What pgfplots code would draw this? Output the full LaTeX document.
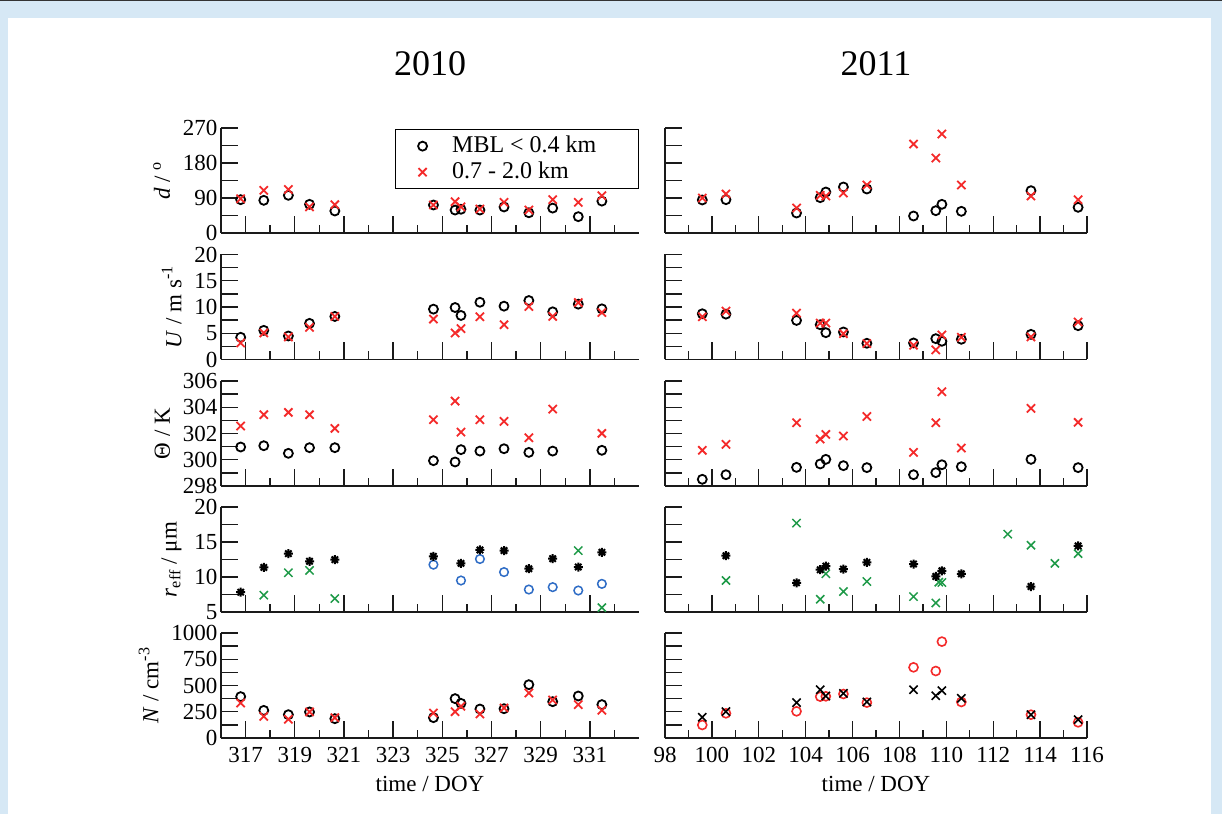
\documentclass[border=0pt]{standalone}
\usepackage{fontspec}
\setmainfont{Liberation Serif}
\usepackage{pgfplots}
\usepackage{pgfplotstable}
\pgfplotsset{compat=1.18}
\usetikzlibrary{plotmarks}

\definecolor{frameblue}{HTML}{D6E8F5}
\definecolor{xred}{HTML}{F42A2A}
\definecolor{xgreen}{HTML}{1E9A48}
\definecolor{oblue}{HTML}{2F6DC6}
\definecolor{axisgray}{HTML}{1A1A1A}

% eight-armed asterisk
\pgfdeclareplotmark{star8}{%
  \pgfpathmoveto{\pgfqpoint{0pt}{\pgfplotmarksize}}%
  \pgfpathlineto{\pgfqpoint{0pt}{-\pgfplotmarksize}}%
  \pgfpathmoveto{\pgfqpoint{\pgfplotmarksize}{0pt}}%
  \pgfpathlineto{\pgfqpoint{-\pgfplotmarksize}{0pt}}%
  \pgfpathmoveto{\pgfqpoint{.707\pgfplotmarksize}{.707\pgfplotmarksize}}%
  \pgfpathlineto{\pgfqpoint{-.707\pgfplotmarksize}{-.707\pgfplotmarksize}}%
  \pgfpathmoveto{\pgfqpoint{.707\pgfplotmarksize}{-.707\pgfplotmarksize}}%
  \pgfpathlineto{\pgfqpoint{-.707\pgfplotmarksize}{.707\pgfplotmarksize}}%
  \pgfusepathqstroke}

% ---------------- 2010 ----------------
\pgfplotstableread{
x      c      r
316.80 85.7   88
317.74 84     109.7
318.74 96.9   112
319.60 73.7   67
320.63 56.6   72.9
324.64 72     72
325.52 59     80.6
325.76 61     67
326.53 59     61.7
327.51 66.9   78.9
328.52 52     59
329.49 64     85.7
330.53 42     78.9
331.49 82     96
}\dA
\pgfplotstableread{
x      c      r
316.80 4.23   3.15
317.74 5.55   5.05
318.74 4.48   4.29
319.60 6.88   6.12
320.63 8.20   8.20
324.64 9.59   7.70
325.52 9.90   5.05
325.76 8.39   5.87
326.53 10.90  8.14
327.51 10.16  6.62
328.52 11.23  10.10
329.49 9.08   8.20
330.53 10.54  10.85
331.49 9.65   8.96
}\uA
\pgfplotstableread{
x      c       r
316.80 300.97  302.57
317.74 301.07  303.43
318.74 300.49  303.61
319.60 300.92  303.43
320.63 300.92  302.39
324.64 299.93  303.05
325.52 299.83  304.47
325.76 300.77  302.11
326.53 300.66  303.05
327.51 300.84  302.92
328.52 300.56  301.68
329.49 300.66  303.86
331.49 300.72  302.01
}\tA
\pgfplotstableread{
x      s
316.80 7.83
317.74 11.37
318.74 13.34
319.60 12.24
320.63 12.47
324.64 12.95
325.76 11.95
326.53 13.86
327.51 13.77
328.52 11.18
329.49 12.62
330.53 11.42
331.49 13.53
}\rsA
\pgfplotstableread{
x      g
317.74 7.40
318.74 10.60
319.60 10.94
320.63 6.92
330.53 13.77
331.49 5.62
}\rgA
\pgfplotstableread{
x      b
324.64 11.76
325.76 9.50
326.53 12.57
327.51 10.70
328.52 8.21
329.49 8.55
330.53 8.07
331.49 9.02
}\rbA
\pgfplotstableread{
x      c    r
316.80 394  333
317.74 263  206
318.74 222  178
319.60 248  248
320.63 184  194
324.64 194  238
325.52 375  251
325.76 330  302
326.53 276  229
327.51 279  286
328.52 508  429
329.49 346  362
330.53 400  318
331.49 318  264
}\nA

% ---------------- 2011 ----------------
\pgfplotstableread{
x      c      r
99.59  84.9   90
100.60 85.7   100.3
103.61 51.4   64.3
104.62 90.9   96.8
104.86 105.4  95.1
105.61 118.3  102.8
106.61 113.1  123.4
108.60 43.7   228.8
109.55 57.4   192.8
109.81 73.7   254.5
110.64 55.7   123.4
113.61 108.8  95.1
115.62 66.0   85.7
}\dB
\pgfplotstableread{
x      c      r
99.59  8.71   8.14
100.60 8.64   9.21
103.61 7.44   8.83
104.62 6.62   6.94
104.86 5.11   6.94
105.61 5.24   4.92
106.61 3.09   3.03
108.60 3.15   2.71
109.55 3.97   1.83
109.81 3.47   4.67
110.64 3.85   4.23
113.61 4.79   4.29
115.62 6.44   7.13
}\uB
\pgfplotstableread{
x      c       r
99.59  298.51  300.72
100.60 298.86  301.17
103.61 299.42  302.82
104.62 299.68  301.58
104.86 300.03  301.93
105.61 299.55  301.81
106.61 299.40  303.30
108.60 298.86  300.56
109.55 299.02  302.82
109.81 299.62  305.18
110.64 299.47  300.89
113.61 300.03  303.91
115.62 299.40  302.85
}\tB
\pgfplotstableread{
x      s
100.60 13.05
103.61 9.17
104.62 11.04
104.86 11.56
105.61 11.13
106.61 12.09
108.60 11.85
109.55 10.08
109.81 10.89
110.64 10.46
113.61 8.64
115.62 14.44
}\rsB
\pgfplotstableread{
x      g
100.60 9.50
103.61 17.70
104.62 6.82
104.86 10.46
105.61 7.92
106.61 9.36
108.60 7.20
109.55 6.29
109.68 9.26
109.81 9.22
112.62 16.12
113.61 14.54
114.63 11.95
115.62 13.34
}\rgB
\pgfplotstableread{
x      c    r
99.59  124  197
100.60 235  251
103.61 254  337
104.62 394  460
104.86 397  400
105.61 419  425
106.61 337  343
108.60 673  460
109.55 638  403
109.81 918  451
110.64 343  378
113.61 222  222
115.62 149  175
}\nB

\pgfplotsset{
  panel/.style={
    scale only axis, height=105pt,
    axis x line*=bottom, axis y line*=left,
    tick align=inside,
    axis line style={line width=1.8pt, color=axisgray},
    every tick/.style={line width=1.4pt, color=axisgray},
    major tick length=17pt, minor tick length=8pt,
    tick label style={font=\fontsize{23}{27}\selectfont},
    xticklabel style={yshift=-6pt},
    label style={font=\fontsize{23}{27}\selectfont},
    xlabel style={yshift=-6pt},
    ylabel style={xshift=0pt, yshift=6pt},
    /pgf/number format/assume math mode=true,
    clip=false,
  },
  col2010/.style={panel, width=418pt, xmin=316, xmax=333,
    xtick={317,319,...,331}, minor xtick={316,318,...,332}},
  col2011/.style={panel, width=422pt, xmin=98, xmax=116,
    xtick={98,100,...,116}, minor xtick={99,101,...,115}, yticklabels={}},
  noxlab/.style={xticklabels={}},
  rowd/.style={ymin=0, ymax=270, ytick={0,45,...,270}},
  rowu/.style={ymin=0, ymax=20, ytick={0,2.5,...,20}},
  rowt/.style={ymin=298, ymax=306, ytick={298,299,...,306}},
  rowr/.style={ymin=5, ymax=20, ytick={5,7.5,...,20}},
  rown/.style={ymin=0, ymax=1000, ytick={0,125,...,1000}},
  legimg/.style={legend image code/.code={%
      \path (0pt,0pt) (50pt,0pt);
      \draw[##1] plot coordinates {(23pt,0pt)};}},
  ocirc/.style={only marks, mark=o, mark size=4.5pt, color=black,
    mark options={line width=1.8pt}, legimg},
  ocircred/.style={only marks, mark=o, mark size=4.5pt, color=xred,
    mark options={line width=1.6pt}},
  ocircblue/.style={only marks, mark=o, mark size=4.3pt, color=oblue,
    mark options={line width=1.5pt}},
  xred/.style={only marks, mark=x, mark size=5.8pt, color=xred,
    mark options={line width=1.8pt}, legimg},
  xblack/.style={only marks, mark=x, mark size=5.8pt, color=black,
    mark options={line width=1.6pt}},
  xgreen/.style={only marks, mark=x, mark size=5.8pt, color=xgreen,
    mark options={line width=1.5pt}},
  astk/.style={only marks, mark=star8, mark size=4.5pt, color=black,
    mark options={line width=2pt}},
}

\begin{document}
\begin{tikzpicture}
\useasboundingbox (0pt,0pt) rectangle (1222pt,814pt);
\fill[white] (0pt,0pt) rectangle (1222pt,814pt);
\fill[frameblue] (0pt,796pt) rectangle (1222pt,814pt);
\fill[frameblue] (0pt,0pt) rectangle (8pt,814pt);
\fill[frameblue] (1211pt,0pt) rectangle (1222pt,814pt);
\draw[black!80, line width=1.2pt] (0pt,813.4pt) -- (1222pt,813.4pt);

\node[font=\fontsize{36}{40}\selectfont] at (430pt,750pt) {2010};
\node[font=\fontsize{36}{40}\selectfont] at (876pt,750pt) {2011};

% ---------- 2010 column ----------
\begin{axis}[col2010, noxlab, rowd, at={(221pt,581pt)}, anchor=south west,
  yticklabels={0,,90,,180,,270},
  ylabel={\textit{d} / \textsuperscript{o}},
  legend style={at={(rel axis cs:0.416,0.99)}, anchor=north west,
    draw=black, line width=1.2pt, inner sep=3.5pt,
    font=\fontsize{24}{28}\selectfont,
    nodes={inner sep=2pt, text height=17pt, text depth=5pt},
    row sep=0pt},
  legend cell align=left]
\addplot[ocirc] table[x=x,y=c]{\dA};
\addlegendentry{\makebox[181pt][l]{MBL < 0.4 km}}
\addplot[xred] table[x=x,y=r]{\dA};
\addlegendentry{\makebox[181pt][l]{0.7 - 2.0 km}}
\end{axis}

\begin{axis}[col2010, noxlab, rowu, at={(221pt,454.5pt)}, anchor=south west,
  yticklabels={0,,5,,10,,15,,20},
  ylabel={\textit{U} / m s\textsuperscript{-1}}]
\addplot[ocirc] table[x=x,y=c]{\uA};
\addplot[xred] table[x=x,y=r]{\uA};
\end{axis}

\begin{axis}[col2010, noxlab, rowt, at={(221pt,328pt)}, anchor=south west,
  yticklabels={298,,300,,302,,304,,306},
  ylabel={Θ / K}]
\addplot[ocirc] table[x=x,y=c]{\tA};
\addplot[xred] table[x=x,y=r]{\tA};
\end{axis}

\begin{axis}[col2010, noxlab, rowr, at={(221pt,202pt)}, anchor=south west,
  yticklabels={5,,10,,15,,20},
  ylabel={\textit{r}\textsubscript{eff} / μm}]
\addplot[ocircblue] table[x=x,y=b]{\rbA};
\addplot[xgreen] table[x=x,y=g]{\rgA};
\addplot[astk] table[x=x,y=s]{\rsA};
\end{axis}

\begin{axis}[col2010, rown, at={(221pt,76pt)}, anchor=south west,
  yticklabels={0,,250,,500,,750,,1000},
  ylabel={\textit{N} / cm\textsuperscript{-3}},
  xlabel={time / DOY}]
\addplot[ocirc] table[x=x,y=c]{\nA};
\addplot[xred] table[x=x,y=r]{\nA};
\end{axis}

% ---------- 2011 column ----------
\begin{axis}[col2011, noxlab, rowd, at={(665pt,581pt)}, anchor=south west]
\addplot[ocirc] table[x=x,y=c]{\dB};
\addplot[xred] table[x=x,y=r]{\dB};
\end{axis}

\begin{axis}[col2011, noxlab, rowu, at={(665pt,454.5pt)}, anchor=south west]
\addplot[ocirc] table[x=x,y=c]{\uB};
\addplot[xred] table[x=x,y=r]{\uB};
\end{axis}

\begin{axis}[col2011, noxlab, rowt, at={(665pt,328pt)}, anchor=south west]
\addplot[ocirc] table[x=x,y=c]{\tB};
\addplot[xred] table[x=x,y=r]{\tB};
\end{axis}

\begin{axis}[col2011, noxlab, rowr, at={(665pt,202pt)}, anchor=south west]
\addplot[xgreen] table[x=x,y=g]{\rgB};
\addplot[astk] table[x=x,y=s]{\rsB};
\end{axis}

\begin{axis}[col2011, rown, at={(665pt,76pt)}, anchor=south west,
  xlabel={time / DOY}]
\addplot[ocircred] table[x=x,y=c]{\nB};
\addplot[xblack] table[x=x,y=r]{\nB};
\end{axis}
\end{tikzpicture}
\end{document}
